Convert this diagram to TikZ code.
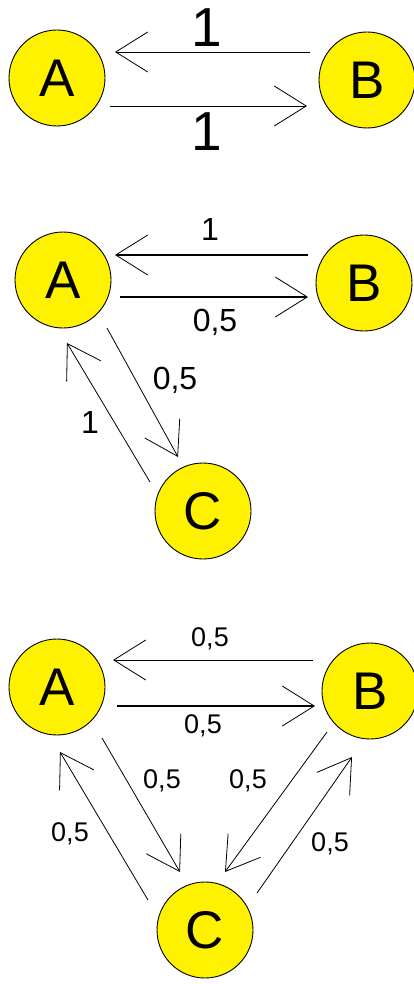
\documentclass[tikz,border=0pt]{standalone}
\usepackage{fontspec}
\setmainfont{Liberation Sans}
\usetikzlibrary{arrows.meta}
\tikzset{
  state/.style={circle, draw=black, line width=0.9pt, fill=yellow, minimum size=96pt, inner sep=0pt, font=\fontsize{53}{53}\selectfont},
  arr/.style={line width=0.8pt, -{Straight Barb[length=32pt,width=40pt,line width=0.8pt]}},
  thick arr/.style={arr, line width=1.3pt},
  biglab/.style={font=\fontsize{55}{55}\selectfont, inner sep=0pt},
  midlab/.style={font=\fontsize{32}{32}\selectfont, inner sep=0pt},
  smalllab/.style={font=\fontsize{27}{27}\selectfont, inner sep=0pt}
}
\begin{document}
\begin{tikzpicture}[x=1pt, y=-1pt]
\useasboundingbox[fill=white] (0,0) rectangle (414,984);
% ---- section 1
\node[state] (A1) at (57,78) {A};
\node[state] (B1) at (367,80) {B};
\draw[arr] ([shift={(-57,-28)}]B1.center) -- ([shift={(58,-26)}]A1.center);
\draw[arr] ([shift={(53,28)}]A1.center) -- ([shift={(-60,26)}]B1.center);
\node[biglab] (l1a) at (207,28) {1};
\node[biglab] (l1b) at (207,132) {1};
% ---- section 2
\node[state] (A2) at (63,280) {A};
\node[state] (B2) at (364,283) {B};
\node[state] (C2) at (203,511) {C};
\draw[thick arr] ([shift={(-56,-28)}]B2.center) -- ([shift={(52,-25)}]A2.center);
\draw[thick arr] ([shift={(57,17)}]A2.center) -- ([shift={(-56,14)}]B2.center);
\draw[arr] ([shift={(44,48)}]A2.center) -- ([shift={(-25,-54)}]C2.center);
\draw[arr] ([shift={(-53,-29)}]C2.center) -- ([shift={(4,63)}]A2.center);
\node[midlab] (l2a) at (210,229) {1};
\node[midlab] (l2b) at (215,322) {0,5};
\node[midlab] (l2c) at (175,380) {0,5};
\node[midlab] (l2d) at (90,422) {1};
% ---- section 3
\node[state] (A3) at (57,687) {A};
\node[state] (B3) at (370,691) {B};
\node[state] (C3) at (205,930) {C};
\draw[arr] ([shift={(-57,-31)}]B3.center) -- ([shift={(56,-27)}]A3.center);
\draw[thick arr] ([shift={(60,19)}]A3.center) -- ([shift={(-55,15)}]B3.center);
\draw[arr] ([shift={(45,51)}]A3.center) -- ([shift={(-25,-58)}]C3.center);
\draw[arr] ([shift={(-57,-30)}]C3.center) -- ([shift={(3,65)}]A3.center);
\draw[arr] ([shift={(-43,41)}]B3.center) -- ([shift={(20,-58)}]C3.center);
\draw[arr] ([shift={(52,-37)}]C3.center) -- ([shift={(-18,66)}]B3.center);
\node[smalllab] (l3a) at (210,639) {0,5};
\node[smalllab] (l3b) at (203,726) {0,5};
\node[smalllab] (l3c) at (162,781) {0,5};
\node[smalllab] (l3d) at (70,834) {0,5};
\node[smalllab] (l3e) at (248,781) {0,5};
\node[smalllab] (l3f) at (330,844) {0,5};
\end{tikzpicture}
\end{document}
